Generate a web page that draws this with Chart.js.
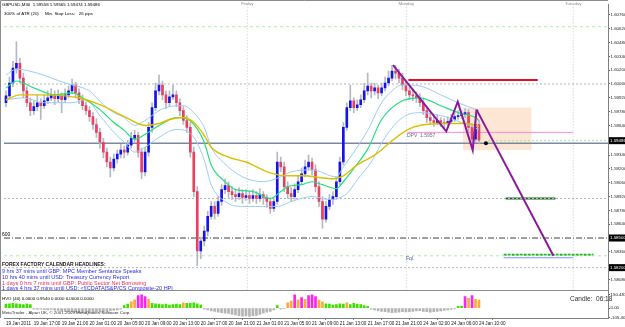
<!DOCTYPE html>
<html><head><meta charset="utf-8">
<script src="https://cdn.jsdelivr.net/npm/chart.js@4/dist/chart.umd.min.js"></script>
<style>html,body{margin:0;padding:0;background:#fff;}canvas{display:block}</style>
</head><body>
<canvas id="c" width="625" height="327"></canvas>
<script>
// ---------- DATA ----------
const timeLabels = ['19 Jan 2011','19 Jan 17:00','19 Jan 21:00','20 Jan 01:00','20 Jan 05:00','20 Jan 09:00','20 Jan 13:00','20 Jan 17:00','20 Jan 21:00','21 Jan 01:00','21 Jan 05:00','21 Jan 09:00','21 Jan 13:00','21 Jan 17:00','21 Jan 21:00','24 Jan 02:00','24 Jan 06:00','24 Jan 10:00'];
const timeLabelBars = [0,8,16,24,32,40,48,56,64,72,80,88,96,104,112,120,128,136];

const openP = [1.5987,1.5994,1.6007,1.6022,1.6027,1.6012,1.5999,1.5987,1.5979,1.5983,
1.5987,1.5984,1.5989,1.5992,1.5995,1.5991,1.5994,1.5990,1.5995,1.5999,
1.6005,1.5997,1.5990,1.5984,1.5979,1.5973,1.5965,1.5957,1.5947,1.5937,
1.5927,1.5921,1.5930,1.5935,1.5939,1.5937,1.5944,1.5951,1.5954,1.5937,
1.5917,1.5937,1.5962,1.5982,1.5999,1.6005,1.5995,1.5987,1.5993,1.5995,
1.5987,1.5979,1.5969,1.5962,1.5937,1.5897,1.5837,1.5847,1.5857,1.5872,
1.5882,1.5875,1.5887,1.5899,1.5903,1.5897,1.5894,1.5892,1.5895,1.5891,
1.5893,1.5890,1.5893,1.5890,1.5894,1.5891,1.5887,1.5880,1.5887,1.5927,
1.5922,1.5902,1.5895,1.5892,1.5899,1.5907,1.5915,1.5922,1.5927,1.5919,
1.5902,1.5887,1.5869,1.5882,1.5889,1.5892,1.5907,1.5927,1.5962,1.5982,
1.5989,1.5982,1.5985,1.5990,1.5999,1.6004,1.5999,1.6002,1.5997,1.6002,
1.6007,1.6012,1.6019,1.6017,1.6012,1.6005,1.5999,1.5995,1.5994,1.5992,
1.5987,1.5979,1.5972,1.5969,1.5967,1.5969,1.5967,1.5966,1.5968,1.5970,
1.5973,1.5974,1.5975,1.5977,1.5962,1.5950,1.5965];
const highP = [1.5999,1.6013,1.6029,1.6049,1.6032,1.6017,1.6003,1.5992,1.5989,1.5995,
1.5991,1.5995,1.5999,1.6001,1.5999,1.6000,1.5997,1.6001,1.6004,1.6011,
1.6008,1.6001,1.5995,1.5988,1.5983,1.5977,1.5971,1.5961,1.5951,1.5941,
1.5932,1.5935,1.5939,1.5945,1.5943,1.5949,1.5957,1.5959,1.5957,1.5941,
1.5942,1.5967,1.5987,1.6007,1.6015,1.6009,1.5999,1.5999,1.6005,1.5999,
1.5991,1.5983,1.5974,1.5967,1.5942,1.5902,1.5851,1.5862,1.5877,1.5887,
1.5887,1.5892,1.5904,1.5910,1.5907,1.5902,1.5899,1.5901,1.5899,1.5899,
1.5897,1.5899,1.5897,1.5900,1.5897,1.5894,1.5891,1.5891,1.5937,1.5932,
1.5927,1.5907,1.5901,1.5905,1.5913,1.5921,1.5929,1.5934,1.5931,1.5924,
1.5907,1.5892,1.5887,1.5894,1.5897,1.5912,1.5932,1.5967,1.5987,1.6005,
1.5992,1.5990,1.5995,1.6007,1.6017,1.6007,1.6007,1.6005,1.6007,1.6013,
1.6019,1.6025,1.6025,1.6021,1.6017,1.6009,1.6003,1.6001,1.5998,1.5996,
1.5991,1.5983,1.5977,1.5973,1.5975,1.5972,1.5971,1.5973,1.5975,1.5977,
1.5979,1.5979,1.5981,1.5980,1.5966,1.5969,1.5969];
const lowP = [1.5983,1.5991,1.6003,1.6017,1.6007,1.5992,1.5983,1.5974,1.5975,1.5979,
1.5970,1.5981,1.5986,1.5989,1.5985,1.5988,1.5977,1.5987,1.5992,1.5996,
1.5992,1.5986,1.5980,1.5975,1.5968,1.5960,1.5952,1.5941,1.5931,1.5922,
1.5912,1.5918,1.5926,1.5931,1.5931,1.5934,1.5941,1.5947,1.5932,1.5910,
1.5913,1.5933,1.5957,1.5979,1.5995,1.5990,1.5981,1.5983,1.5990,1.5983,
1.5974,1.5965,1.5957,1.5932,1.5892,1.5822,1.5829,1.5842,1.5852,1.5869,
1.5869,1.5872,1.5883,1.5895,1.5891,1.5889,1.5887,1.5889,1.5885,1.5888,
1.5885,1.5887,1.5885,1.5887,1.5884,1.5881,1.5875,1.5877,1.5884,1.5917,
1.5897,1.5890,1.5887,1.5889,1.5896,1.5904,1.5912,1.5919,1.5914,1.5897,
1.5882,1.5860,1.5866,1.5879,1.5884,1.5889,1.5904,1.5924,1.5959,1.5979,
1.5977,1.5979,1.5982,1.5987,1.5995,1.5992,1.5995,1.5991,1.5994,1.5999,
1.6004,1.6009,1.6011,1.6007,1.6000,1.5994,1.5990,1.5989,1.5987,1.5983,
1.5975,1.5967,1.5965,1.5963,1.5965,1.5963,1.5961,1.5964,1.5966,1.5968,
1.5970,1.5971,1.5972,1.5957,1.5944,1.5947,1.5946];
const closeP = [1.5994,1.6007,1.6022,1.6027,1.6012,1.5999,1.5987,1.5979,1.5983,1.5987,
1.5984,1.5989,1.5992,1.5995,1.5991,1.5994,1.5990,1.5995,1.5999,1.6005,
1.5997,1.5990,1.5984,1.5979,1.5973,1.5965,1.5957,1.5947,1.5937,1.5927,
1.5921,1.5930,1.5935,1.5939,1.5937,1.5944,1.5951,1.5954,1.5937,1.5917,
1.5937,1.5962,1.5982,1.5999,1.6005,1.5995,1.5987,1.5993,1.5995,1.5987,
1.5979,1.5969,1.5962,1.5937,1.5897,1.5837,1.5847,1.5857,1.5872,1.5882,
1.5875,1.5887,1.5899,1.5903,1.5897,1.5894,1.5892,1.5895,1.5891,1.5893,
1.5890,1.5893,1.5890,1.5894,1.5891,1.5887,1.5880,1.5887,1.5927,1.5922,
1.5902,1.5895,1.5892,1.5899,1.5907,1.5915,1.5922,1.5927,1.5919,1.5902,
1.5887,1.5869,1.5882,1.5889,1.5892,1.5907,1.5927,1.5962,1.5982,1.5989,
1.5982,1.5985,1.5990,1.5999,1.6004,1.5999,1.6002,1.5997,1.6002,1.6007,
1.6012,1.6019,1.6017,1.6012,1.6005,1.5999,1.5995,1.5994,1.5992,1.5987,
1.5979,1.5972,1.5969,1.5967,1.5969,1.5967,1.5966,1.5968,1.5970,1.5973,
1.5974,1.5975,1.5977,1.5962,1.5950,1.5965,1.5949];

// moving averages, [bar, price]
const maYellow = [[0,1.5990],[4,1.5995],[9,1.5995],[17,1.5994],[21,1.5992],[27,1.5985],[34,1.5973],[40,1.5964],[44,1.5966],[47,1.5970],[51,1.5972],[54,1.5967],[57,1.5954],[59,1.5942],[64,1.5932],[69,1.5927],[76,1.5916],[81,1.5913],[85,1.5913],[94,1.5910],[97,1.5913],[101,1.5924],[106,1.5934],[113,1.5954],[117,1.5962],[121,1.5965],[127,1.5966],[132,1.5966],[136,1.5963]];
const maGreen = [[0,1.6002],[3,1.6009],[8,1.6002],[14,1.5995],[19,1.5997],[22,1.5992],[27,1.5980],[31,1.5967],[34,1.5959],[37,1.5950],[40,1.5955],[44,1.5964],[49,1.5972],[51,1.5972],[54,1.5965],[57,1.5947],[59,1.5924],[63,1.5907],[66,1.5899],[71,1.5897],[76,1.5890],[79,1.5897],[81,1.5902],[85,1.5904],[88,1.5907],[91,1.5904],[95,1.5900],[97,1.5907],[101,1.5925],[104,1.5940],[108,1.5970],[114,1.5989],[119,1.5992],[125,1.5984],[130,1.5977],[135,1.5972],[136,1.5969]];
const bandUpper = [[0,1.6015],[3,1.6021],[9,1.6017],[17,1.6007],[19,1.6005],[24,1.5999],[28,1.5985],[31,1.5977],[34,1.5972],[37,1.5964],[40,1.5969],[44,1.5979],[47,1.5983],[51,1.5984],[54,1.5977],[57,1.5962],[59,1.5942],[63,1.5925],[68,1.5912],[74,1.5907],[79,1.5912],[82,1.5917],[88,1.5919],[95,1.5912],[97,1.5922],[101,1.5942],[104,1.5959],[108,1.5987],[112,1.6002],[114,1.6005],[119,1.6004],[125,1.5995],[130,1.5987],[136,1.5979]];
const bandLower = [[0,1.5990],[5,1.5992],[11,1.5987],[19,1.5987],[23,1.5990],[27,1.5974],[31,1.5957],[34,1.5947],[37,1.5937],[40,1.5942],[44,1.5952],[49,1.5960],[54,1.5952],[57,1.5929],[59,1.5904],[63,1.5887],[68,1.5882],[73,1.5882],[78,1.5882],[82,1.5887],[88,1.5892],[93,1.5889],[98,1.5895],[101,1.5909],[105,1.5927],[109,1.5952],[114,1.5972],[119,1.5977],[125,1.5974],[131,1.5967],[136,1.5960]];

// HVO histogram
const hvo = [45,50,55,50,45,40,45,40,
-10,-15,-12,-18,-20,-15,-22,-25,-30,-35,-40,-38,-45,-50,-48,-55,-52,-45,-40,-48,-42,-35,-30,-25,-20,-12,
30,45,70,95,140,150,130,100,
55,50,45,40,45,35,40,45,40,60,55,55,60,50,35,
-10,-20,-30,-35,-45,-50,-55,-60,-70,-75,-85,-90,-88,-92,-85,-80,-70,-55,-45,-35,-20,
30,-10,-5,
60,80,150,90,120,100,140,150,130,90,70,
50,45,35,40,50,45,60,40,55,45,40,30,20,
-10,-20,-30,-35,-40,-45,-50,-48,-45,-40,-42,-38,-35,-30,-28,-35,-40,-45,-40,-35,-30,-25,-20,-15,-8,
20,25,130,110,140,100,90];
const hvoKind = ('gggggggg'+'ssssssssssssssssssssssssss'+'gg'+'oo'+'mmm'+'o'+'ggggggggg'+'o'+'ggggg'+
'sssssssssssssssssssss'+'g'+'ss'+'oomomommmoo'+'gggggg'+'o'+'gggggg'+'sssssssssssssssssssssssss'+'gg'+'momoo').split('');

// axis ticks
const priceTicks = [1.6076,1.6062,1.6048,1.6034,1.6020,1.6006,1.5992,1.5978,1.5964,1.5934,1.5920,1.5906,1.5892,1.5878,1.5864,1.5836,1.5808];
const markedPrices = [1.59486,1.58500,1.58200];
const hvoTicks = [150.483,0,-105.409];
const hvoTickText = ['150.483','0.00','-105.409'];

// drawn objects
const dayNames = ['Friday','Monday','Tuesday'];
const dayBars = [69.4,115.1,163.1];
const grayLevel = 1.5946;
const dottedLevels = [1.6006,1.5890,1.5820];
const lightGreenLevels = [1.6064,1.5832];
const bidLevel = [[138.6,1.59486],[173.1,1.59486]];
const dashDotLevel = 1.5850;
const redLine = [[115.7,1.6010],[152.9,1.6010]];
const dpvLine = [[115.4,1.5957],[163.1,1.5957]];
const darkGreenLine = [[143.7,1.5890],[158.0,1.5890]];
const greenTarget = [[143.1,1.5833],[168.9,1.5833]];
const blueTarget = [[143.1,1.5830],[163.1,1.5830]];
const purpleZigzag = [[111.3,1.6025],[126.6,1.5958],[129.9,1.5988],[134.2,1.5939],[135.3,1.5980]];
const purpleProjection = [[135.3,1.5980],[157.4,1.5832]];
const markerDot = [[138,1.5946]];
const zoneBars = [131.4,151.1];
const zonePrices = [1.5982,1.5939];

const calendarLines = [
 ['9 hrs 37 mins until GBP: MPC Member Sentance Speaks','#2c2cf0'],
 ['10 hrs 40 mins until USD: Treasury Currency Report','#2c2cf0'],
 ['1 days 0 hrs 7 mins until GBP: Public Sector Net Borrowing','#f03050'],
 ['1 days 4 hrs 37 mins until USD: <![CDATA[S&P/CS Composite-20 HPI','#2c2cf0']
];

// ---------- CHART ----------
const FONT = '"Liberation Sans", Arial, sans-serif';
const XMIN = -0.571, XMAX = 173.1;
const YMIN = 1.5797, YMAX = 1.6087;
const pts = a => a.map(p => ({x:p[0], y:p[1]}));
const hline = (p, a=XMIN, b=XMAX) => [{x:a,y:p},{x:b,y:p}];
const kindColor = {g:'#3ee000', o:'#ffaa33', m:'#ff22ee', s:'#b4b4b4'};

const lineDs = (data, color, width, dash, order, extra={}) => Object.assign({
  type:'line', data, borderColor:color, borderWidth:width, borderDash:dash||[], pointRadius:0,
  fill:false, yAxisID:'y', order, tension:0}, extra);

const datasets = [
  lineDs(hline(grayLevel), '#7c88a0', 1.3, [], 60),
  ...dottedLevels.map(p => lineDs(hline(p), '#b4b4b4', 1, [2,2], 60)),
  ...lightGreenLevels.map(p => lineDs(hline(p), '#a8f0a8', 1, [3,3], 60)),
  lineDs(pts(bidLevel), '#9ce89c', 1, [2,2], 60),
  lineDs(hline(dashDotLevel), '#404040', 1, [6,2,1,2], 60),
  ...dayBars.map(b => lineDs([{x:b,y:YMIN},{x:b,y:YMAX}], '#c8c8c8', 1, [1,2], 60)),
  lineDs(pts(redLine), '#e0102a', 2, [], 60),
  lineDs(pts(dpvLine), '#ff88d8', 1, [], 60),
  lineDs(pts(darkGreenLine), '#1a6b1a', 2, [], 60),
  lineDs(pts(greenTarget), '#28b028', 2, [3,1], 60),
  lineDs(pts(blueTarget), '#8c8cff', 1.2, [], 59),
  {type:'bar', data: lowP.map((l,i)=>({x:i, y:[l, highP[i]]})), backgroundColor:'#b4b8c6',
   barThickness:1, grouped:false, yAxisID:'y', order:40},
  {type:'bar', data: openP.map((o,i)=>({x:i, y:[o, closeP[i]]})),
   backgroundColor: openP.map((o,i)=> closeP[i] >= o ? '#1414e8' : '#e8405e'),
   barThickness:2, minBarLength:1, grouped:false, yAxisID:'y', order:30},
  lineDs(pts(bandUpper), '#9ccbf5', 1, [], 20, {cubicInterpolationMode:'monotone'}),
  lineDs(pts(bandLower), '#9ccbf5', 1, [], 20, {cubicInterpolationMode:'monotone'}),
  lineDs(pts(maGreen), '#22e07a', 1.2, [], 19, {cubicInterpolationMode:'monotone'}),
  lineDs(pts(maYellow), '#dcc000', 1.4, [], 18, {cubicInterpolationMode:'monotone'}),
  lineDs(pts(purpleZigzag), '#8a1a9a', 2, [], 10),
  lineDs(pts(purpleProjection), '#8a1a9a', 2, [], 10),
  lineDs(pts(markerDot), '#000', 0, [], 5, {pointRadius:2, pointBackgroundColor:'#000', showLine:false}),
  {type:'bar', data: hvo.map((v,i)=>({x:i, y:v})), backgroundColor: hvoKind.map(k=>kindColor[k]),
   barThickness:2, grouped:false, yAxisID:'y2', order:35}
];

const overlay = {
  id:'overlay',
  beforeDatasetsDraw(chart){
    const {ctx, scales:{x,y}} = chart;
    const x0=x.getPixelForValue(zoneBars[0]), x1=x.getPixelForValue(zoneBars[1]);
    const y0=y.getPixelForValue(zonePrices[0]), y1=y.getPixelForValue(zonePrices[1]);
    ctx.save();
    ctx.fillStyle='rgba(250,200,158,0.45)';
    ctx.fillRect(x0,y0,x1-x0,y1-y0);
    ctx.restore();
  },
  afterDraw(chart){
    const {ctx, scales:{x,y}} = chart;
    ctx.save();
    ctx.strokeStyle='#8c8c8c'; ctx.lineWidth=1;
    const right = x.right;
    ctx.beginPath();
    ctx.moveTo(0.5,0.5); ctx.lineTo(right,0.5);
    ctx.moveTo(0.5,0.5); ctx.lineTo(0.5,x.top);
    const sep = Math.round(y.bottom)+0.5;
    ctx.moveTo(0,sep); ctx.lineTo(right,sep);
    ctx.stroke();
    ctx.textBaseline='middle';
    const txt = (s, px, py, size, color, align='left', weight='') => {
      ctx.font = weight+' '+size+'px '+FONT; ctx.fillStyle=color; ctx.textAlign=align; ctx.fillText(s, px, py);
    };
    txt('GBPUSD,M30  1.59558 1.59565 1.59474 1.59486', 2, 5, 4.4, '#000');
    txt('300% of ATR (20)     Min. Stop Loss:   26 pips', 4, 14, 4.4, '#000');
    dayNames.forEach((d,i)=> txt(d, x.getPixelForValue(dayBars[i]), 4, 4.4, '#8a8a8a', 'center'));
    txt('600', 2, y.getPixelForValue(dashDotLevel)-3, 5, '#000');
    txt('DPV  1.5957', 407, y.getPixelForValue(dpvLine[0][1])+3, 5, '#6a6a80');
    txt('Fql.', 406, y.getPixelForValue(blueTarget[0][1])+1, 5, '#5050c0');
    txt('FOREX FACTORY CALENDAR HEADLINES:', 2, 265, 5, '#202020', 'left', 'bold');
    calendarLines.forEach((l,i)=> txt(l[0], 2, 271.5+i*5.8, 5.5, l[1]));
    txt('HVO (40) 0.0000 0.9540 0.0000 0.0000 0.0000', 2, 299, 4.4, '#000');
    txt('Candle:  06:18', 570, 299, 6.5, '#303030');
    txt('MetaTrader - Alpari UK, \u00a9 2001-2009 MetaQuotes Software Corp.', 2, 313, 4.4, '#303030');
    markedPrices.forEach(p=>{
      const py = y.getPixelForValue(p);
      ctx.fillStyle='#000'; ctx.fillRect(right+1, py-3.5, 625-right-1, 7);
      txt(p.toFixed(5), right+2, py, 4.4, '#fff');
    });
    ctx.restore();
  }
};

new Chart(document.getElementById('c'), {
  type:'bar',
  data:{datasets},
  options:{
    responsive:false, animation:false, devicePixelRatio:1,
    layout:{padding:{top:0,left:0,right:0,bottom:0}},
    plugins:{legend:{display:false}, tooltip:{enabled:false}},
    scales:{
      x:{type:'linear', min:XMIN, max:XMAX, offset:false,
        afterBuildTicks: s => { s.ticks = timeLabelBars.map(v=>({value:v})); },
        ticks:{callback:(v)=> timeLabels[timeLabelBars.indexOf(v)], font:{size:4.6, family:FONT}, color:'#202020',
          padding:1, maxRotation:0, autoSkip:false, align:'start'},
        grid:{drawOnChartArea:false, tickLength:2, color:'#808080'},
        border:{color:'#808080'},
        afterFit: s => { s.height = 9; }
      },
      y:{type:'linear', position:'right', stack:'p', stackWeight:290, min:YMIN, max:YMAX,
        afterBuildTicks: s => { s.ticks = priceTicks.map(v=>({value:v})); },
        ticks:{callback:v=> v.toFixed(5), font:{size:4.4, family:FONT}, color:'#202020', padding:0.5, autoSkip:false},
        grid:{drawOnChartArea:false, tickLength:2, color:'#606060'},
        border:{color:'#808080'},
        afterFit: s => { s.width = 17; }
      },
      y2:{type:'linear', position:'right', stack:'p', stackWeight:28, min:-110, max:200,
        afterBuildTicks: s => { s.ticks = hvoTicks.map(v=>({value:v})); },
        ticks:{callback:v=> hvoTickText[hvoTicks.indexOf(v)], font:{size:4.4, family:FONT}, color:'#202020', padding:0.5, autoSkip:false},
        grid:{drawOnChartArea:false, tickLength:2, color:'#606060'},
        border:{color:'#808080'},
        afterFit: s => { s.width = 17; }
      }
    }
  },
  plugins:[overlay]
});
</script>
</body></html>
